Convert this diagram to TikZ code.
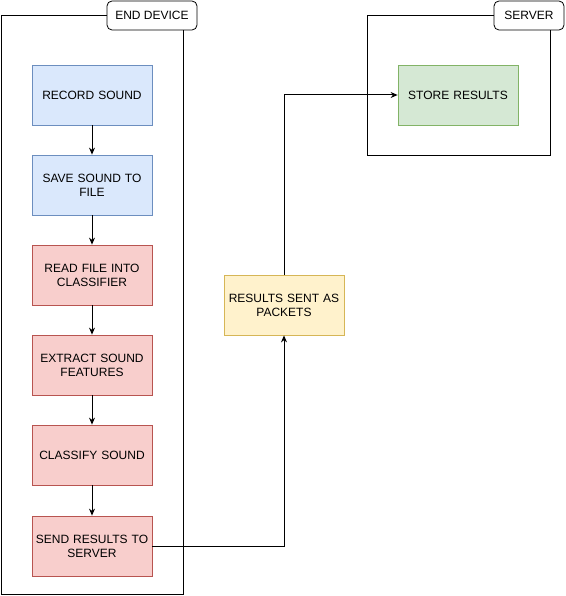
\documentclass[tikz,border=0pt]{standalone}
\usepackage{fontspec}
\setmainfont{Liberation Sans}
\usetikzlibrary{arrows.meta}
\definecolor{bluefill}{HTML}{DAE8FC}\definecolor{bluedraw}{HTML}{6C8EBF}
\definecolor{redfill}{HTML}{F8CECC}\definecolor{reddraw}{HTML}{B85450}
\definecolor{yelfill}{HTML}{FFF2CC}\definecolor{yeldraw}{HTML}{D6B656}
\definecolor{grnfill}{HTML}{D5E8D4}\definecolor{grndraw}{HTML}{82B366}
\begin{document}
\begin{tikzpicture}[x=1pt,y=-1pt,
  every node/.style={font=\fontsize{12}{14}\selectfont, align=center, inner sep=0pt},
  proc/.style={minimum width=120pt, minimum height=60pt, text width=116pt, line width=0.8pt},
  bluebox/.style={proc, fill=bluefill, draw=bluedraw},
  redbox/.style={proc, fill=redfill, draw=reddraw},
  yelbox/.style={proc, fill=yelfill, draw=yeldraw},
  grnbox/.style={proc, fill=grnfill, draw=grndraw},
  container/.style={draw=black, line width=1pt},
  tag/.style={draw=black, fill=white, rounded corners=5pt, minimum height=29pt, line width=0.8pt},
  conn/.style={draw=black, line width=1pt, -{Stealth[length=7pt,width=6pt]}},
  wire/.style={draw=black, line width=1pt}]
\useasboundingbox (0,0) rectangle (565,596);
% containers
\node[container, minimum width=182pt, minimum height=579pt, anchor=north west] (dev) at (1,15) {};
\node[container, minimum width=183pt, minimum height=140pt, anchor=north west] (srv) at (367,15) {};
\node[tag, minimum width=90pt] (devtag) at (152,15.5) {END DEVICE};
\node[tag, minimum width=70pt] (srvtag) at (529,15.5) {SERVER};
% process boxes
\node[bluebox] (rec) at (92,95) {RECORD SOUND};
\node[bluebox] (save) at (92,185) {SAVE SOUND TO\\FILE};
\node[redbox] (read) at (92,275) {READ FILE INTO\\CLASSIFIER};
\node[redbox] (extr) at (92,365) {EXTRACT SOUND\\FEATURES};
\node[redbox] (cls) at (92,455) {CLASSIFY SOUND};
\node[redbox] (send) at (92,546) {SEND RESULTS TO\\SERVER};
\node[yelbox] (pkt) at (284,305) {RESULTS SENT AS\\PACKETS};
\node[grnbox] (store) at (458,95) {STORE RESULTS};
% connectors
\draw[conn] (rec) -- (save);
\draw[conn] (save) -- (read);
\draw[conn] (read) -- (extr);
\draw[conn] (extr) -- (cls);
\draw[conn] (cls) -- (send);
\draw[conn] (send.east) -| (pkt.south);
\draw[conn] (pkt.north) |- (store.west);
\end{tikzpicture}
\end{document}
